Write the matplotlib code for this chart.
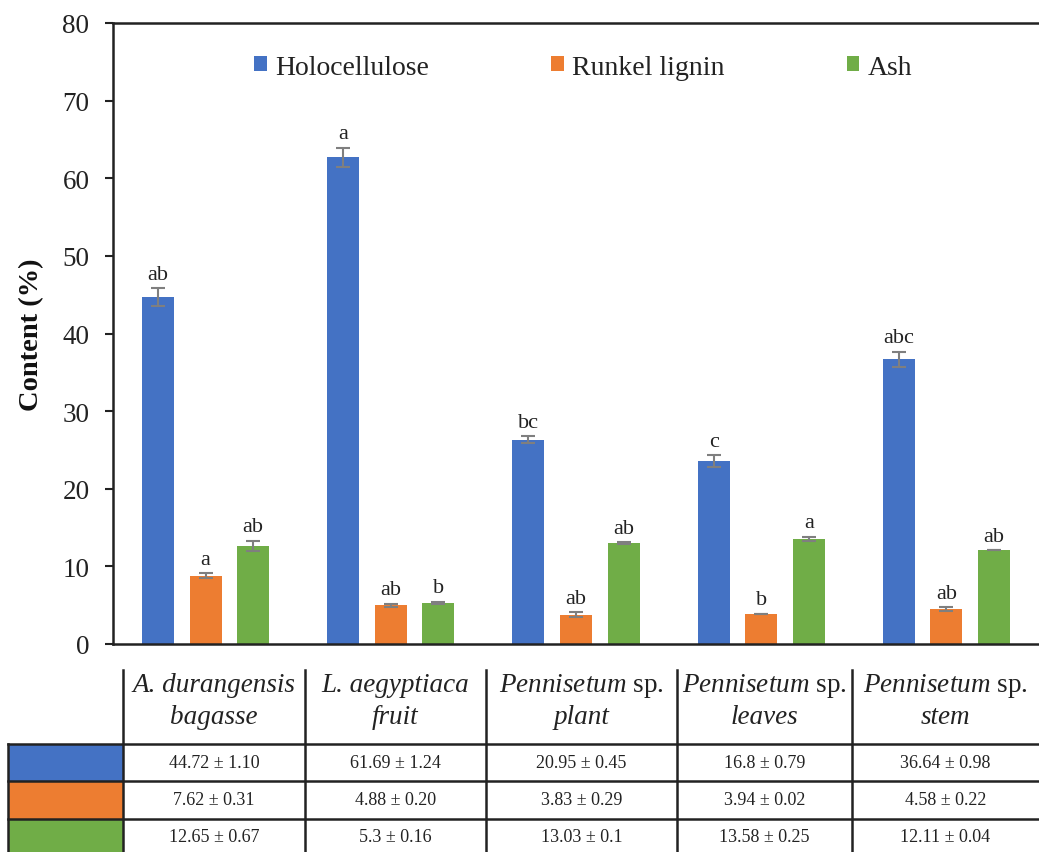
import numpy as np
import matplotlib
matplotlib.use("Agg")
import matplotlib.pyplot as plt
from matplotlib.patches import Rectangle

plt.rcParams["font.family"] = ["Liberation Serif", "DejaVu Serif"]
plt.rcParams["mathtext.fontset"] = "custom"
plt.rcParams["mathtext.rm"] = "Liberation Serif"
plt.rcParams["mathtext.it"] = "Liberation Serif:italic"

# ---- data ----
samples = ["A. durangensis bagasse", "L. aegyptiaca fruit", "Pennisetum sp. plant",
           "Pennisetum sp. leaves", "Pennisetum sp. stem"]
header_line1 = ["A. durangensis", "L. aegyptiaca",
                r"$\it{Pennisetum}$ sp.", r"$\it{Pennisetum}$ sp.", r"$\it{Pennisetum}$ sp."]
header_line1_style = ["italic", "italic", "normal", "normal", "normal"]
header_line2 = ["bagasse", "fruit", "plant", "leaves", "stem"]
series = ["Holocellulose", "Runkel lignin", "Ash"]

holocellulose = [44.7, 62.7, 26.3, 23.6, 36.7]
runkel_lignin = [8.8, 5.0, 3.8, 3.9, 4.5]
ash = [12.65, 5.3, 13.03, 13.58, 12.11]

holocellulose_sd = [1.10, 1.24, 0.45, 0.79, 0.98]
runkel_lignin_sd = [0.31, 0.20, 0.29, 0.02, 0.22]
ash_sd = [0.67, 0.16, 0.10, 0.25, 0.04]

holocellulose_letters = ["ab", "a", "bc", "c", "abc"]
runkel_lignin_letters = ["a", "ab", "ab", "b", "ab"]
ash_letters = ["ab", "b", "ab", "a", "ab"]

holocellulose_table = ["44.72 ± 1.10", "61.69 ± 1.24", "20.95 ± 0.45", "16.8 ± 0.79", "36.64 ± 0.98"]
runkel_lignin_table = ["7.62 ± 0.31", "4.88 ± 0.20", "3.83 ± 0.29", "3.94 ± 0.02", "4.58 ± 0.22"]
ash_table = ["12.65 ± 0.67", "5.3 ± 0.16", "13.03 ± 0.1", "13.58 ± 0.25", "12.11 ± 0.04"]

colors = ["#4472C4", "#ED7D31", "#70AD47"]

# ---- figure ----
W, H = 1039, 853
fig = plt.figure(figsize=(W / 100, H / 100), dpi=100)
ax_left, ax_right, ax_top, ax_bottom = 113, 1039, 24, 645
ax = fig.add_axes([ax_left / W, 1 - ax_bottom / H, (ax_right - ax_left) / W,
                   (ax_bottom - ax_top) / H])

x = np.arange(len(samples))
offset = 0.257
width = 0.173
values = [holocellulose, runkel_lignin, ash]
sds = [holocellulose_sd, runkel_lignin_sd, ash_sd]
letters = [holocellulose_letters, runkel_lignin_letters, ash_letters]

for i, (vals, sd, lets, col, name) in enumerate(zip(values, sds, letters, colors, series)):
    pos = x + (i - 1) * offset
    ax.bar(pos, vals, width, color=col, label=name, zorder=2)
    ax.errorbar(pos, vals, yerr=sd, fmt="none", ecolor="#7F7F7F", elinewidth=1.5,
                capsize=5, capthick=1.5, zorder=3)
    for p, v, s, t in zip(pos, vals, sd, lets):
        ax.annotate(t, (p, v + s), xytext=(0, 3), textcoords="offset points",
                    ha="center", va="bottom", fontsize=16, color="#222222")

ax.set_xlim(-0.5, len(samples) - 0.5)
ax.set_ylim(0, 80)
ax.set_yticks(np.arange(0, 81, 10))
ax.set_xticks([])
ax.tick_params(axis="y", labelsize=19.5, length=6, width=1.5, pad=11, colors="#222222")
for side in ["left", "bottom", "top"]:
    ax.spines[side].set_linewidth(1.8)
    ax.spines[side].set_color("#222222")
ax.spines["right"].set_visible(False)
ax.set_ylabel("Content (%)", fontsize=20.5, fontweight="bold", color="#111111")
ax.yaxis.set_label_coords(-0.074, 0.5)

leg = ax.legend(loc="center", bbox_to_anchor=(0.508, 0.929), ncol=3, frameon=False,
                fontsize=20, handlelength=0.45, handleheight=0.45, handletextpad=0.3,
                columnspacing=4.4)
for t in leg.get_texts():
    t.set_color("#222222")

# ---- data table below the plot ----
tab = fig.add_axes([0, 0, 1, 1], zorder=5)
tab.set_xlim(0, W)
tab.set_ylim(H, 0)
tab.axis("off")

col_edges = [123, 305, 486, 677, 852, W]
key_left = 8
head_top, head_bottom = 671, 745
row_edges = [745, 782, 820, H]
lw = 1.8
lc = "#222222"

# vertical lines
for xe in col_edges[:-1]:
    tab.plot([xe, xe], [head_top, H], color=lc, lw=lw)
tab.plot([key_left, key_left], [head_bottom, H], color=lc, lw=lw)
# horizontal lines
for ye in row_edges[:-1]:
    tab.plot([key_left, W], [ye, ye], color=lc, lw=lw)

# colour keys
for r, col in enumerate(colors):
    y0, y1 = row_edges[r], row_edges[r + 1]
    tab.add_patch(Rectangle((key_left + 1, y0 + 1), col_edges[0] - key_left - 2,
                            y1 - y0 - 2, color=col, zorder=1))

# header
for c in range(len(samples)):
    cx = (col_edges[c] + col_edges[c + 1]) / 2
    tab.text(cx, 686, header_line1[c], ha="center", va="center", fontsize=19.5,
             style=header_line1_style[c], color="#222222")
    tab.text(cx, 717, header_line2[c], ha="center", va="center", fontsize=19.5,
             style="italic", color="#222222")

# values
for r, row in enumerate([holocellulose_table, runkel_lignin_table, ash_table]):
    cy = (row_edges[r] + row_edges[r + 1]) / 2
    if r == 2:
        cy = 838
    for c, s in enumerate(row):
        cx = (col_edges[c] + col_edges[c + 1]) / 2
        tab.text(cx, cy, s, ha="center", va="center", fontsize=13, color="#222222")

fig.savefig("out.png", dpi=100)
